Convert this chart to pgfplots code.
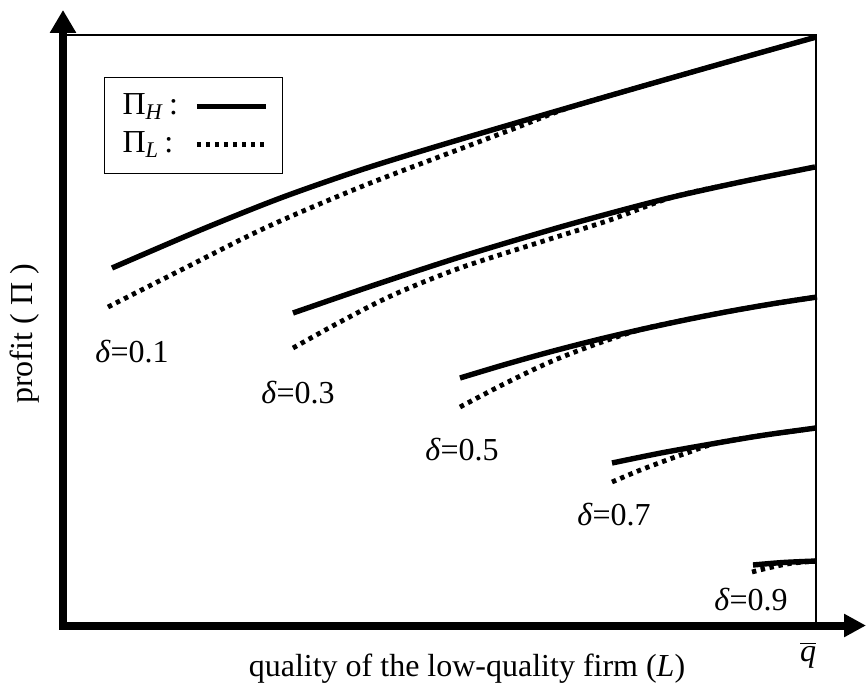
\documentclass[border=0pt]{standalone}
\usepackage{pgfplots}
\pgfplotsset{compat=1.18}
\usepackage{fontspec}
\setmainfont{Liberation Serif}
\usetikzlibrary{arrows.meta}
\begin{document}
\fontsize{16}{19}\selectfont
\begin{tikzpicture}
\useasboundingbox (0,0) rectangle (433pt,343pt);
\begin{axis}[
  at={(31.5pt,30.5pt)}, anchor=south west,
  scale only axis, width=376.5pt, height=295pt,
  xmin=0, xmax=753, ymin=0, ymax=590,
  axis lines=none, clip=false,
  legend plot pos=right,
  legend cell align=left,
  legend style={at={(0.0544,0.9288)}, anchor=north west, draw=black, line width=0.6pt,
    font=\fontsize{16}{19}\selectfont, inner xsep=7pt, inner ysep=6pt, row sep=2pt},
  legend image code/.code={\path (0pt,0pt); \draw[#1] (6pt,0pt) -- (40.5pt,0pt);},
  hstyle/.style={black, line width=2.7pt, smooth},
  lstyle/.style={black, line width=2.4pt, dash pattern=on 2.2pt off 2.3pt, smooth},
]
% delta = 0.1
\addplot[hstyle] coordinates {(49,357) (137,394.8) (217,426.8) (297,454.8) (377,479.6) (477,509.1) (577,538.1) (677,566.6) (753,587.9)};
\addlegendentry{Π\textsubscript{\textit{H}}\,:}
\addplot[lstyle] coordinates {(45,318) (120,356) (204,398) (300,439) (397,476) (450,496) (505,517) (577,538.1) (677,566.6) (753,587.9)};
\addlegendentry{Π\textsubscript{\textit{L}}\,:}
% delta = 0.3
\addplot[hstyle, forget plot] coordinates {(230,312) (310,339.5) (397,368) (487,395) (550,412.5) (610,428) (680,443.5) (752,458)};
\addplot[lstyle, forget plot] coordinates {(230,277) (277,303) (330,330) (397,357) (487,386) (547,405) (610,428) (680,443.5) (752,458)};
% delta = 0.5
\addplot[hstyle, forget plot] coordinates {(397,247) (442,260.5) (487,273.1) (532,284.7) (577,295.3) (622,305) (667,313.8) (712,321.6) (754,328)};
\addplot[lstyle, forget plot] coordinates {(397,218) (442,241.5) (487,263) (532,280.5) (577,295.3) (622,305) (667,313.8) (712,321.6) (754,328)};
% delta = 0.7
\addplot[hstyle, forget plot] coordinates {(549,162) (600,172.4) (654,182) (700,189.7) (753,197)};
\addplot[lstyle, forget plot] coordinates {(549,143) (575,154) (600,163.5) (625,172.5) (654,182) (700,189.7) (753,197)};
% delta = 0.9
\addplot[hstyle, forget plot] coordinates {(690,60) (720,62.5) (753,64)};
\addplot[lstyle, forget plot] coordinates {(689,53) (705,57) (727,61.5) (753,64)};
% labels
\node at (axis cs:69,273) {\textit{δ}=0.1};
\node at (axis cs:235,232) {\textit{δ}=0.3};
\node at (axis cs:399,175) {\textit{δ}=0.5};
\node at (axis cs:551,110) {\textit{δ}=0.7};
\node at (axis cs:688,25) {\textit{δ}=0.9};
\end{axis}
\begin{scope}[shift={(0pt,343pt)}, x=0.5pt, y=-0.5pt]
  \draw[line width=0.6pt] (63,35) -- (816,35) -- (816,625);
  \draw[line width=4pt, -{Triangle[length=11.5pt,width=12.5pt]}] (63,629) -- (63,10);
  \draw[line width=4pt, -{Triangle[length=11pt,width=11pt]}] (59,625.5) -- (866,625.5);
  \node[anchor=base] at (467,676) {quality of the low-quality firm (\textit{L})};
  \node at (808,655) {$\overline{\textit{q}}$};
  \node[rotate=90] at (25,334) {profit ( Π )};
\end{scope}
\end{tikzpicture}
\end{document}
